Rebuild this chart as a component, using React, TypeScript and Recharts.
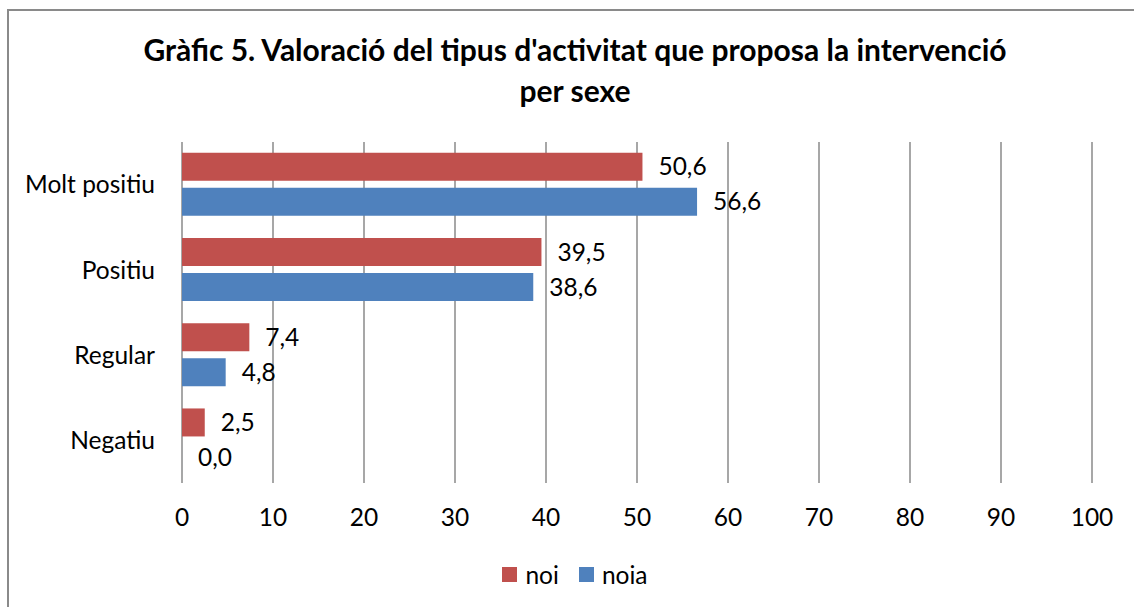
import React from "react";
import {
  BarChart,
  Bar,
  XAxis,
  YAxis,
  CartesianGrid,
  Legend,
  LabelList,
} from "recharts";

const categories = ["Molt positiu", "Positiu", "Regular", "Negatiu"];
const noi = [50.6, 39.5, 7.4, 2.5];
const noia = [56.6, 38.6, 4.8, 0.0];
const xTicks = [0, 10, 20, 30, 40, 50, 60, 70, 80, 90, 100];

const RED = "#C0504D";
const BLUE = "#4F81BD";
const FONT = "Lato, 'Open Sans', sans-serif";
const FS = 24.5;

const data = categories.map((name, i) => ({ name, noi: noi[i], noia: noia[i] }));

const fmt = (v: number) => Number(v).toFixed(1).replace(".", ",");

function LegendBox({ payload }: any) {
  return (
    <div style={{ display: "flex", justifyContent: "center", alignItems: "center", fontFamily: FONT, fontSize: FS, color: "#000" }}>
      {(payload || []).map((p: any, i: number) => (
        <div key={p.value} style={{ display: "flex", alignItems: "center", marginLeft: i ? 20 : 0 }}>
          <span style={{ width: 15, height: 15, background: p.color, display: "inline-block", marginRight: 8 }} />
          <span>{p.value}</span>
        </div>
      ))}
    </div>
  );
}

export default function App() {
  return (
    <div style={{ position: "absolute", left: 0, top: 0, width: 1134, height: 607, overflow: "hidden", background: "#fff" }}>
      <div style={{ position: "absolute", left: 7, top: 9, width: 1200, height: 700, border: "2px solid #8a8a8a" }} />
      <div style={{ position: "absolute", left: 0, top: 29, width: 1150, textAlign: "center", fontFamily: FONT, fontWeight: "bold", fontSize: 30, lineHeight: "41px", color: "#000" }}>
        Gràfic 5. Valoració del tipus d'activitat que proposa la intervenció
        <br />
        per sexe
      </div>
      <div style={{ position: "absolute", left: 0, top: 0 }}>
        <BarChart
          width={1134}
          height={607}
          data={data}
          layout="vertical"
          margin={{ top: 142, right: 42, bottom: 84, left: 0 }}
          barCategoryGap={10.7}
          barGap={7}
        >
          <CartesianGrid horizontal={false} stroke="#8a8a8a" strokeWidth={1.5} />
          <XAxis
            type="number"
            domain={[0, 100]}
            ticks={xTicks}
            interval={0}
            axisLine={false}
            tickLine={false}
            height={40}
            tickMargin={20}
            tick={{ fontFamily: FONT, fontSize: FS, fill: "#000" }}
          />
          <YAxis
            type="category"
            dataKey="name"
            width={182}
            axisLine={false}
            tickLine={false}
            tickMargin={21}
            tick={{ fontFamily: FONT, fontSize: FS, fill: "#000" }}
          />
          <Legend
            verticalAlign="middle"
            align="center"
            content={<LegendBox />}
            wrapperStyle={{ top: 560, left: 0, width: 1150 }}
          />
          <Bar dataKey="noi" name="noi" fill={RED} minPointSize={0.01} isAnimationActive={false}>
            <LabelList dataKey="noi" position="right" offset={16} formatter={fmt} style={{ fontFamily: FONT, fontSize: FS, fill: "#000" }} />
          </Bar>
          <Bar dataKey="noia" name="noia" fill={BLUE} minPointSize={0.01} isAnimationActive={false}>
            <LabelList dataKey="noia" position="right" offset={16} formatter={fmt} style={{ fontFamily: FONT, fontSize: FS, fill: "#000" }} />
          </Bar>
        </BarChart>
      </div>
    </div>
  );
}
